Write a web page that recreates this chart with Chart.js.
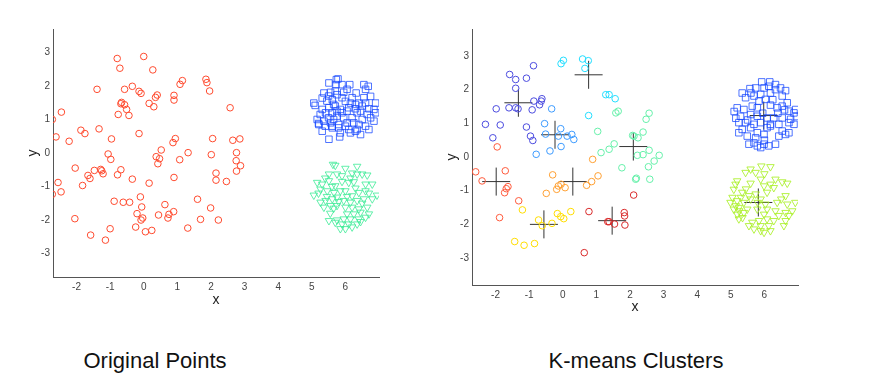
<!DOCTYPE html>
<html lang="en">
<head>
<meta charset="UTF-8">
<title>Original Points / K-means Clusters</title>
<script src="https://cdn.jsdelivr.net/npm/chart.js"></script>
<style>
  body { margin: 0; background: #fff; font-family: "Liberation Sans", Arial, sans-serif; }
  #wrap { position: relative; width: 887px; height: 377px; overflow: hidden; }
  canvas { position: absolute; top: 0; }
  #left { left: 0; }
  #right { left: 420px; }
  .caption { position: absolute; top: 348px; font-size: 22px; color: #111; transform: translateX(-50%); white-space: nowrap; }
</style>
</head>
<body>
<div id="wrap">
  <canvas id="left" width="400" height="320"></canvas>
  <canvas id="right" width="420" height="330"></canvas>
  <div class="caption" style="left:155px">Original Points</div>
  <div class="caption" style="left:636px">K-means Clusters</div>
</div>

<script>
// tick labels
const xTicks = [-2, -1, 0, 1, 2, 3, 4, 5, 6];
const yTicks = [-3, -2, -1, 0, 1, 2, 3];

// ---- left: original points ----
const origCircles = [
  [0.0,2.88],[-0.79,2.82],[-0.71,2.53],[0.27,2.48],[-1.39,1.9],[-0.34,1.99],[-0.57,1.9],[-0.14,1.84],
  [-0.08,1.78],[0.4,1.73],[0.35,1.66],[1.15,2.16],[1.08,2.05],[1.85,2.2],[1.88,2.1],[1.96,1.85],
  [0.9,1.72],[0.9,1.58],[-0.66,1.51],[-0.68,1.47],[-0.57,1.44],[-0.51,1.3],[-0.76,1.15],[-0.44,1.12],
  [0.16,1.48],[0.3,1.38],[2.57,1.35],[-2.45,1.22],[-2.72,1.0],[-2.61,0.48],[-2.22,0.35],[-1.87,0.68],
  [-1.75,0.58],[-1.33,0.72],[-0.96,0.42],[-0.14,0.58],[0.94,0.43],[0.87,0.31],[2.05,0.43],[2.65,0.38],
  [2.86,0.42],[0.52,0.09],[0.37,-0.11],[0.47,-0.17],[0.42,-0.32],[-1.06,-0.03],[-0.98,-0.19],[1.07,-0.2],
  [1.32,0.01],[2.01,-0.05],[2.76,0.01],[2.75,-0.23],[2.88,-0.38],[2.76,-0.54],[2.15,-0.6],[2.15,-0.81],
  [2.46,-0.85],[-2.04,-0.45],[-1.47,-0.52],[-1.28,-0.49],[-1.25,-0.53],[-1.21,-0.62],[-1.66,-0.67],[-1.6,-0.76],
  [-1.82,-0.97],[-0.68,-0.5],[-0.78,-0.65],[-0.34,-0.78],[0.16,-0.9],[0.9,-0.73],[-2.55,-0.88],[-2.46,-1.16],
  [-2.72,-1.23],[-0.88,-1.44],[-0.61,-1.47],[-0.42,-1.47],[-0.1,-1.31],[-0.06,-1.61],[0.63,-1.54],[1.6,-1.38],
  [-0.2,-1.81],[0.44,-1.85],[-0.03,-1.94],[-0.08,-2.0],[0.75,-1.83],[0.72,-1.94],[0.89,-1.75],[1.99,-1.64],
  [1.69,-1.98],[2.22,-2.0],[-2.05,-1.96],[-0.24,-2.21],[0.05,-2.35],[0.24,-2.31],[-1.0,-2.26],[1.31,-2.24],
  [-1.58,-2.45],[-1.14,-2.6]
];
const origSquares = [
  [5.73,2.19],[5.78,2.21],[5.51,2.09],[5.72,2.04],[5.9,2.04],[6.13,2.04],[6.55,2.04],[6.68,1.99],
  [5.36,1.79],[5.56,1.81],[5.75,1.74],[5.95,1.81],[6.32,1.79],[6.75,1.69],[5.06,1.49],[5.31,1.64],
  [5.61,1.59],[6.0,1.54],[6.15,1.49],[6.4,1.49],[6.6,1.49],[6.9,1.49],[5.31,1.3],[5.51,1.35],
  [5.7,1.4],[5.85,1.3],[6.05,1.25],[6.3,1.32],[6.5,1.4],[6.7,1.32],[5.16,1.0],[5.41,1.2],
  [5.61,1.2],[5.75,1.1],[5.95,1.05],[6.35,1.2],[6.65,1.15],[6.9,1.2],[5.21,0.85],[5.36,0.95],
  [5.56,0.9],[5.8,0.85],[6.05,0.9],[6.25,0.9],[6.5,1.0],[6.85,0.95],[5.31,0.65],[5.61,0.75],
  [5.8,0.75],[6.1,0.7],[6.35,0.7],[6.6,0.8],[5.51,0.41],[5.83,0.48],[6.3,0.65],[6.45,0.55],
  [5.45,1.55],[5.9,1.65],[6.2,1.65],[5.65,1.45],[6.1,1.35],[6.45,1.25],[5.25,1.15],[5.5,1.05],
  [5.9,1.2],[6.2,1.05],[6.55,1.65],[5.65,1.0],[6.0,0.8],[6.75,1.05],[5.4,0.8],[6.4,0.85],
  [5.7,1.85],[6.05,1.9],[6.85,1.3],[5.1,1.42],[5.85,0.6],[6.6,1.9],[5.5,1.7],[6.3,1.45],
  [5.75,1.25],[6.15,0.6],[6.7,0.7],[5.2,0.88],[5.6,0.8]
];
const origTriangles = [
  [5.63,-0.34],[5.7,-0.37],[6.0,-0.46],[6.35,-0.4],[5.51,-0.63],[5.75,-0.63],[5.9,-0.68],[6.2,-0.6],
  [6.35,-0.63],[6.5,-0.63],[6.65,-0.66],[5.16,-0.88],[5.31,-0.93],[5.51,-0.83],[5.7,-0.98],[6.1,-0.88],
  [6.25,-0.86],[6.6,-0.93],[6.8,-0.93],[5.06,-1.26],[5.26,-1.08],[5.46,-1.13],[5.66,-1.18],[5.85,-1.13],
  [6.0,-1.13],[6.2,-1.28],[6.4,-1.18],[6.6,-1.13],[6.94,-1.26],[5.26,-1.47],[5.41,-1.42],[5.61,-1.37],
  [5.75,-1.32],[5.95,-1.42],[6.15,-1.47],[6.35,-1.42],[6.55,-1.37],[6.8,-1.37],[5.36,-1.62],[5.56,-1.57],
  [5.75,-1.57],[6.0,-1.62],[6.2,-1.62],[6.4,-1.67],[6.65,-1.62],[6.05,-1.82],[6.25,-1.82],[6.45,-1.77],
  [6.7,-1.82],[5.95,-1.97],[6.15,-1.97],[6.4,-1.97],[6.6,-1.92],[5.51,-2.02],[5.7,-2.07],[5.9,-2.12],
  [6.1,-2.12],[6.35,-2.12],[5.85,-2.26],[6.0,-2.26],[6.2,-2.21],[5.4,-0.75],[5.6,-1.0],[5.8,-1.45],
  [6.05,-1.3],[6.3,-1.05],[5.2,-1.2],[5.55,-1.8],[6.5,-1.5],[5.9,-0.85],[6.7,-1.2],[5.45,-1.3],
  [6.15,-0.75],[5.65,-1.65],[6.45,-2.05],[5.75,-2.0]
];

// ---- right: k-means clusters ----
const clusterViolet = [
  [-0.87,2.71],[-1.58,2.45],[-1.4,2.3],[-1.08,2.34],[-1.4,2.04],[-0.62,1.73],[-0.64,1.66],[-0.86,1.66],
  [-0.69,1.55],[-0.91,1.4],[-1.98,1.43],[-1.6,1.46],[-1.4,1.46],[-1.33,1.43],[-2.3,0.97],[-1.86,0.95],
  [-2.08,0.57],[-1.08,0.89],[-0.96,0.62],[-0.89,0.49]
];
const clusterSky = [
  [-0.33,1.43],[-0.54,0.99],[-0.51,0.68],[-0.06,0.84],[-0.13,0.62],[0.13,0.62],[0.27,0.67],[0.33,0.52],
  [-0.05,0.31],[-0.38,0.18],[-0.79,0.08]
];
const clusterCyan = [
  [0.02,2.87],[-0.05,2.77],[0.59,2.91],[0.76,2.86],[0.66,2.63],[1.28,1.85],[1.38,1.85],[1.56,1.73],[0.77,1.23]
];
const clusterMint = [
  [1.58,1.31],[1.65,1.36],[2.57,1.3],[2.48,1.12],[2.39,0.74],[1.04,0.76],[2.08,0.64],[2.12,0.62],
  [2.24,0.57],[1.53,0.39],[1.38,0.23],[1.14,0.13],[2.22,0.05],[2.39,0.07],[2.57,0.2],[2.87,0.05],
  [2.72,-0.12],[2.55,-0.29],[1.76,-0.32],[2.19,-0.63],[2.17,-0.66],[2.59,-0.66]
];
const clusterOrange = [
  [0.89,-0.07],[-0.3,-0.53],[1.05,-0.56],[0.86,-0.73],[0.71,-0.84],[-0.05,-0.81],[-0.13,-0.86],[0.07,-0.91],
  [-0.18,-0.96],[-0.49,-1.08]
];
const clusterCoral = [
  [-1.95,0.3],[-2.59,-0.44],[-2.4,-0.71],[-1.71,-0.41],[-1.63,-0.88],[-1.68,-0.94],[-1.73,-1.06],[-1.31,-1.3],
  [-1.88,-1.8]
];
const clusterYellow = [
  [-1.2,-1.57],[-0.72,-1.87],[-0.61,-2.04],[-0.32,-1.97],[-0.16,-1.68],[-0.06,-1.77],[0.03,-1.83],[0.24,-1.62],
  [-1.43,-2.51],[-1.15,-2.62],[-0.84,-2.57]
];
const clusterRed = [
  [2.11,-1.13],[0.78,-1.62],[1.34,-1.92],[1.38,-1.92],[1.54,-1.99],[1.83,-1.65],[1.84,-1.75],[1.85,-2.02],[0.64,-2.84]
];
const clusterSquares = [
  [5.92,2.23],[6.16,2.23],[6.13,2.1],[6.33,2.15],[5.74,2.05],[5.57,2.03],[5.34,1.9],[6.33,2.0],
  [6.48,2.05],[6.63,1.97],[5.99,2.05],[5.44,1.76],[5.69,1.81],[5.89,1.86],[6.18,1.9],[6.53,1.81],
  [5.84,1.66],[6.03,1.71],[6.68,1.61],[6.53,1.51],[6.18,1.54],[5.19,1.46],[5.39,1.41],[5.64,1.51],
  [5.79,1.46],[6.38,1.46],[6.73,1.36],[6.93,1.41],[6.88,1.31],[5.29,1.21],[5.59,1.26],[5.79,1.21],
  [6.08,1.16],[6.28,1.16],[6.53,1.16],[6.78,1.12],[5.24,1.02],[5.44,1.02],[5.69,0.97],[5.89,1.02],
  [6.18,0.97],[6.43,0.97],[6.73,1.02],[6.88,0.97],[5.34,0.82],[5.59,0.87],[5.79,0.72],[6.08,0.87],
  [6.18,0.92],[6.53,0.77],[6.73,0.72],[5.24,0.72],[5.49,0.62],[5.74,0.57],[5.99,0.67],[6.43,0.62],
  [6.63,0.67],[5.54,0.38],[5.79,0.33],[5.99,0.38],[6.13,0.33],[6.33,0.38],[5.89,0.28],[5.69,0.42],
  [5.1,1.35],[5.15,1.15],[6.95,1.2],[5.95,1.3],[6.4,1.3],[5.5,1.1],[6.0,0.5],[6.6,1.4],[5.6,1.9],[6.25,1.7]
];
const clusterTriangles = [
  [5.91,-0.27],[6.18,-0.29],[5.59,-0.36],[5.74,-0.46],[5.44,-0.46],[6.33,-0.66],[6.53,-0.74],[6.68,-0.78],
  [5.19,-0.71],[5.14,-0.81],[5.59,-0.78],[5.89,-0.66],[5.99,-0.86],[6.28,-0.91],[6.18,-0.81],[5.09,-0.96],
  [5.34,-1.05],[5.54,-1.15],[5.74,-1.1],[6.08,-1.05],[6.63,-1.15],[4.99,-1.35],[5.19,-1.3],[5.39,-1.35],
  [5.59,-1.25],[5.89,-1.25],[6.03,-1.4],[6.38,-1.35],[6.68,-1.4],[6.92,-1.35],[5.09,-1.55],[5.24,-1.5],
  [5.49,-1.55],[5.79,-1.55],[6.08,-1.55],[6.33,-1.6],[6.63,-1.65],[6.83,-1.6],[5.19,-1.7],[5.39,-1.65],
  [5.99,-1.7],[6.43,-1.74],[6.73,-1.74],[5.24,-1.84],[5.64,-1.94],[5.84,-1.89],[6.08,-1.84],[6.28,-1.89],
  [6.63,-1.89],[5.54,-2.04],[5.89,-2.04],[6.13,-2.04],[6.58,-2.04],[5.89,-2.19],[5.99,-2.24],[6.18,-2.19],
  [5.69,-2.14],[5.3,-1.2],[5.15,-1.45],[5.45,-0.95],[5.25,-1.6],[5.05,-1.2],[5.35,-1.8],[6.5,-1.25],
  [6.0,-0.5],[5.8,-1.35]
];
const centroids = [
  [-1.32,1.61],[-0.23,0.66],[0.77,2.44],[2.10,0.31],[0.30,-0.73],[-1.98,-0.73],[-0.56,-2.00],[1.47,-1.89],
  [5.98,1.23],[5.82,-1.35]
];

const toXY = arr => arr.map(p => ({ x: p[0], y: p[1] }));

function circles(arr, color) {
  return { data: toXY(arr), pointStyle: 'circle', pointRadius: 3.3, borderColor: color,
           backgroundColor: 'transparent', pointBorderWidth: 1 };
}
function squares(arr, color) {
  return { data: toXY(arr), pointStyle: 'rect', pointRadius: 4.6, borderColor: color,
           backgroundColor: 'transparent', pointBorderWidth: 1 };
}
function triangles(arr, color) {
  return { data: toXY(arr), pointStyle: 'triangle', rotation: 180, pointRadius: 4.3, borderColor: color,
           backgroundColor: 'transparent', pointBorderWidth: 1 };
}

const tickFont = { family: 'Liberation Sans', size: 10 };
const titleFont = { family: 'Liberation Sans', size: 14 };

function makeScales(yMin, yMax, yAxisW, xAxisH, xTitlePad, yTitlePad) {
  return {
    x: {
      type: 'linear', min: -2.7, max: 7,
      afterBuildTicks: s => { s.ticks = xTicks.map(v => ({ value: v })); },
      afterFit: s => { s.height = xAxisH; },
      grid: { display: false, drawTicks: false },
      border: { display: true, color: '#555', width: 1 },
      ticks: { color: '#444', font: tickFont, padding: 4, maxRotation: 0 },
      title: { display: true, text: 'x', color: '#222', font: titleFont, padding: { top: 0, bottom: xTitlePad } }
    },
    y: {
      type: 'linear', min: yMin, max: yMax,
      afterBuildTicks: s => { s.ticks = yTicks.map(v => ({ value: v })); },
      afterFit: s => { s.width = yAxisW; },
      grid: { display: false, drawTicks: false },
      border: { display: true, color: '#555', width: 1 },
      ticks: { color: '#444', font: tickFont, padding: 3 },
      title: { display: true, text: 'y', color: '#222', font: titleFont, padding: { top: yTitlePad, bottom: 0 } }
    }
  };
}

const common = {
  responsive: false,
  animation: false,
  plugins: { legend: { display: false }, tooltip: { enabled: false } }
};

new Chart(document.getElementById('left'), {
  type: 'scatter',
  data: {
    datasets: [
      circles(origCircles, '#ff4a2e'),
      squares(origSquares, 'rgba(20,70,255,0.75)'),
      triangles(origTriangles, 'rgba(60,235,150,0.8)')
    ]
  },
  options: Object.assign({}, common, {
    layout: { padding: { top: 29, right: 21, left: 0, bottom: 0 } },
    scales: makeScales(-3.7, 3.7, 53, 43, 11, 25)
  })
});

new Chart(document.getElementById('right'), {
  type: 'scatter',
  data: {
    datasets: [
      circles(clusterViolet, '#4b4bdf'),
      circles(clusterSky, '#3d9bff'),
      circles(clusterCyan, '#22ddff'),
      circles(clusterMint, '#66f0aa'),
      circles(clusterOrange, '#ffa033'),
      circles(clusterCoral, '#ff5a3c'),
      circles(clusterYellow, '#ffdd00'),
      circles(clusterRed, '#d92a2a'),
      squares(clusterSquares, 'rgba(20,70,255,0.75)'),
      triangles(clusterTriangles, 'rgba(170,240,40,0.85)'),
      { data: toXY(centroids), pointStyle: 'cross', pointRadius: 14, borderColor: '#333',
        pointBorderWidth: 1, backgroundColor: 'transparent' }
    ]
  },
  options: Object.assign({}, common, {
    layout: { padding: { top: 29, right: 42, left: 0, bottom: 0 } },
    scales: makeScales(-3.8, 3.8, 52, 45, 14, 24)
  })
});
</script>
</body>
</html>
